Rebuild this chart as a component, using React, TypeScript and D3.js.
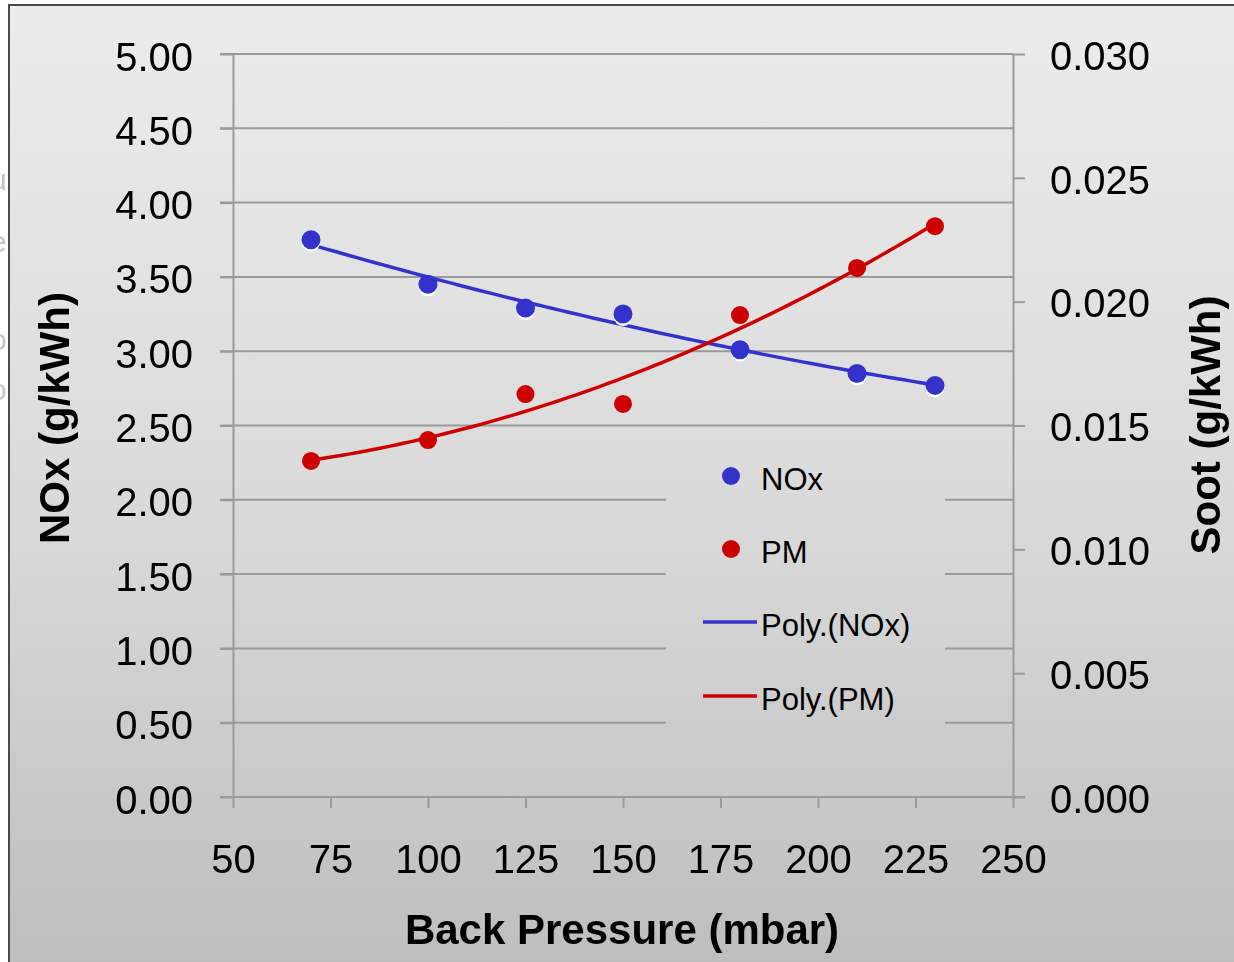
import { useEffect, useRef } from "react";
import * as d3 from "d3";

const W = 1234;
const H = 962;

// Back pressure (mbar)
const pressure = [70, 100, 125, 150, 180, 210, 230];
// NOx (g/kWh), left axis
const noxValues = [3.75, 3.45, 3.29, 3.25, 3.01, 2.85, 2.77];
// Soot / PM (g/kWh), right axis
const pmValues = [0.01357, 0.01441, 0.01627, 0.01587, 0.01946, 0.02136, 0.02305];

const xTicks = [50, 75, 100, 125, 150, 175, 200, 225, 250];
const leftTicks = [0, 0.5, 1, 1.5, 2, 2.5, 3, 3.5, 4, 4.5, 5];
const rightTicks = [0, 0.005, 0.01, 0.015, 0.02, 0.025, 0.03];

const legendItems = [
  { label: "NOx", kind: "dot", color: "#3333cc" },
  { label: "PM", kind: "dot", color: "#cc0000" },
  { label: "Poly.(NOx)", kind: "line", color: "#3333cc" },
  { label: "Poly.(PM)", kind: "line", color: "#cc0000" },
];

const BLUE = "#3333cc";
const RED = "#cc0000";
const FONT = "'Liberation Sans', Arial, Helvetica, sans-serif";

// quadratic least squares, like Excel's order-2 poly trendline
function polyFit2(xs: number[], ys: number[]) {
  const n = xs.length;
  let s1 = 0, s2 = 0, s3 = 0, s4 = 0, t0 = 0, t1 = 0, t2 = 0;
  for (let i = 0; i < n; i++) {
    const x = xs[i], y = ys[i];
    s1 += x; s2 += x * x; s3 += x ** 3; s4 += x ** 4;
    t0 += y; t1 += x * y; t2 += x * x * y;
  }
  const m = [
    [n, s1, s2, t0],
    [s1, s2, s3, t1],
    [s2, s3, s4, t2],
  ];
  for (let c = 0; c < 3; c++) {
    for (let r = c + 1; r < 3; r++) {
      const f = m[r][c] / m[c][c];
      for (let k = c; k < 4; k++) m[r][k] -= f * m[c][k];
    }
  }
  const coef = [0, 0, 0];
  for (let r = 2; r >= 0; r--) {
    let s = m[r][3];
    for (let k = r + 1; k < 3; k++) s -= m[r][k] * coef[k];
    coef[r] = s / m[r][r];
  }
  return (x: number) => coef[0] + coef[1] * x + coef[2] * x * x;
}

const App = () => {
  const svgRef = useRef<SVGSVGElement | null>(null);

  useEffect(() => {
    if (!svgRef.current) return;
    const svg = d3.select(svgRef.current);
    svg.selectAll("*").remove();

    const left = 233, right = 1013, top = 54, bottom = 797;

    const x = d3.scaleLinear().domain([50, 250]).range([left, right]);
    const yL = d3.scaleLinear().domain([0, 5]).range([bottom, top]);
    const yR = d3.scaleLinear().domain([0, 0.03]).range([bottom, top]);

    const defs = svg.append("defs");
    const grad = defs
      .append("linearGradient")
      .attr("id", "bg")
      .attr("gradientUnits", "userSpaceOnUse")
      .attr("x1", 0).attr("y1", 5).attr("x2", 0).attr("y2", H);
    grad.append("stop").attr("offset", "0%").attr("stop-color", "#ececec");
    grad.append("stop").attr("offset", "55%").attr("stop-color", "#d9d9d9");
    grad.append("stop").attr("offset", "100%").attr("stop-color", "#bebebe");

    svg.append("rect").attr("width", W).attr("height", H).attr("fill", "#ffffff");

    // faint letters from the slide behind, cut by the frame as in the source
    const ghost = [
      { t: "u", y: 190 },
      { t: "e", y: 252 },
      { t: "o", y: 350 },
      { t: "o", y: 400 },
    ];
    svg.selectAll(".ghost")
      .data(ghost)
      .join("text")
      .attr("x", -10)
      .attr("y", (d) => d.y)
      .attr("font-family", FONT)
      .attr("font-size", 30)
      .attr("fill", "#c4c4c4")
      .text((d) => d.t);

    svg.append("rect")
      .attr("x", 9).attr("y", 5)
      .attr("width", W + 20).attr("height", H + 20)
      .attr("fill", "url(#bg)")
      .attr("stroke", "#4a4a4a")
      .attr("stroke-width", 2);

    const g = svg.append("g");

    // grid lines
    g.selectAll(".grid")
      .data(leftTicks.filter((t) => t > 0))
      .join("line")
      .attr("x1", left - 13)
      .attr("x2", right)
      .attr("y1", (d) => yL(d))
      .attr("y2", (d) => yL(d))
      .attr("stroke", "#9a9a9a")
      .attr("stroke-width", 2);

    const styleAxis = (a: d3.Selection<SVGGElement, unknown, null, undefined>) => {
      a.selectAll("path, line").attr("stroke", "#9a9a9a").attr("stroke-width", 2);
      a.selectAll("text")
        .attr("fill", "#000")
        .attr("font-size", 40)
        .attr("font-family", FONT);
      a.attr("font-family", null).attr("font-size", null);
    };

    // left axis
    g.append("g")
      .attr("transform", `translate(${left},0)`)
      .call(
        d3.axisLeft(yL)
          .tickValues(leftTicks)
          .tickSizeInner(13)
          .tickSizeOuter(0)
          .tickPadding(27)
          .tickFormat((v) => d3.format(".2f")(v as number))
      )
      .call(styleAxis)
      .call((a) => a.selectAll("text").attr("dy", "0.4em"));

    // right axis
    g.append("g")
      .attr("transform", `translate(${right},0)`)
      .call(
        d3.axisRight(yR)
          .tickValues(rightTicks)
          .tickSizeInner(12)
          .tickSizeOuter(0)
          .tickPadding(25)
          .tickFormat((v) => d3.format(".3f")(v as number))
      )
      .call(styleAxis)
      .call((a) => a.selectAll("text").attr("dy", "0.38em"));

    // bottom axis
    g.append("g")
      .attr("transform", `translate(0,${bottom})`)
      .call(
        d3.axisBottom(x)
          .tickValues(xTicks)
          .tickSizeInner(11)
          .tickSizeOuter(0)
          .tickPadding(37)
          .tickFormat((v) => String(v))
      )
      .call(styleAxis)
      .call((a) => a.select(".domain").attr("d", `M${left - 13},0H${right + 12}`));

    // legend box hides the grid behind it
    const lg = svg.append("g");
    lg.append("rect")
      .attr("x", 666).attr("y", 452)
      .attr("width", 279).attr("height", 288)
      .attr("fill", "url(#bg)");

    // trend curves
    const curve = (xs: number[], ys: number[], ys2px: (v: number) => number, color: string) => {
      const f = polyFit2(xs, ys);
      const pts = d3.range(xs[0], xs[xs.length - 1] + 0.001, 2).map((v) => [x(v), ys2px(f(v))] as [number, number]);
      g.append("path")
        .attr("d", d3.line()(pts))
        .attr("fill", "none")
        .attr("stroke", color)
        .attr("stroke-width", 3.5);
    };
    curve(pressure, noxValues, yL, BLUE);
    curve(pressure, pmValues, yR, RED);

    // points
    g.selectAll(".noxShadow")
      .data(pressure)
      .join("circle")
      .attr("cx", (d) => x(d))
      .attr("cy", (_d, i) => yL(noxValues[i]) + 3)
      .attr("r", 9)
      .attr("fill", "#ffffff");
    g.selectAll(".nox")
      .data(pressure)
      .join("circle")
      .attr("cx", (d) => x(d))
      .attr("cy", (_d, i) => yL(noxValues[i]))
      .attr("r", 9.5)
      .attr("fill", BLUE);
    g.selectAll(".pm")
      .data(pressure)
      .join("circle")
      .attr("cx", (d) => x(d))
      .attr("cy", (_d, i) => yR(pmValues[i]))
      .attr("r", 9)
      .attr("fill", RED);

    // legend entries
    const rowY = [476, 549, 622, 696];
    legendItems.forEach((it, i) => {
      const cy = rowY[i];
      if (it.kind === "dot") {
        lg.append("circle").attr("cx", 731).attr("cy", cy).attr("r", 9).attr("fill", it.color);
      } else {
        lg.append("line")
          .attr("x1", 703).attr("x2", 757)
          .attr("y1", cy).attr("y2", cy)
          .attr("stroke", it.color)
          .attr("stroke-width", 3.5);
      }
      lg.append("text")
        .attr("x", 761)
        .attr("y", cy + 14)
        .attr("font-family", FONT)
        .attr("font-size", 31)
        .attr("fill", "#000")
        .text(it.label);
    });

    // axis titles
    svg.append("text")
      .attr("transform", `translate(69, 418) rotate(-90)`)
      .attr("text-anchor", "middle")
      .attr("font-family", FONT)
      .attr("font-weight", "bold")
      .attr("font-size", 42)
      .text("NOx (g/kWh)");

    svg.append("text")
      .attr("transform", `translate(1220, 425) rotate(-90)`)
      .attr("text-anchor", "middle")
      .attr("font-family", FONT)
      .attr("font-weight", "bold")
      .attr("font-size", 42)
      .text("Soot (g/kWh)");

    svg.append("text")
      .attr("x", 622)
      .attr("y", 944)
      .attr("text-anchor", "middle")
      .attr("font-family", FONT)
      .attr("font-weight", "bold")
      .attr("font-size", 42)
      .text("Back Pressure (mbar)");
  }, []);

  return (
    <svg
      ref={svgRef}
      width={W}
      height={H}
      viewBox={`0 0 ${W} ${H}`}
      style={{ position: "fixed", left: 0, top: 0, display: "block" }}
    />
  );
};

export default App;
